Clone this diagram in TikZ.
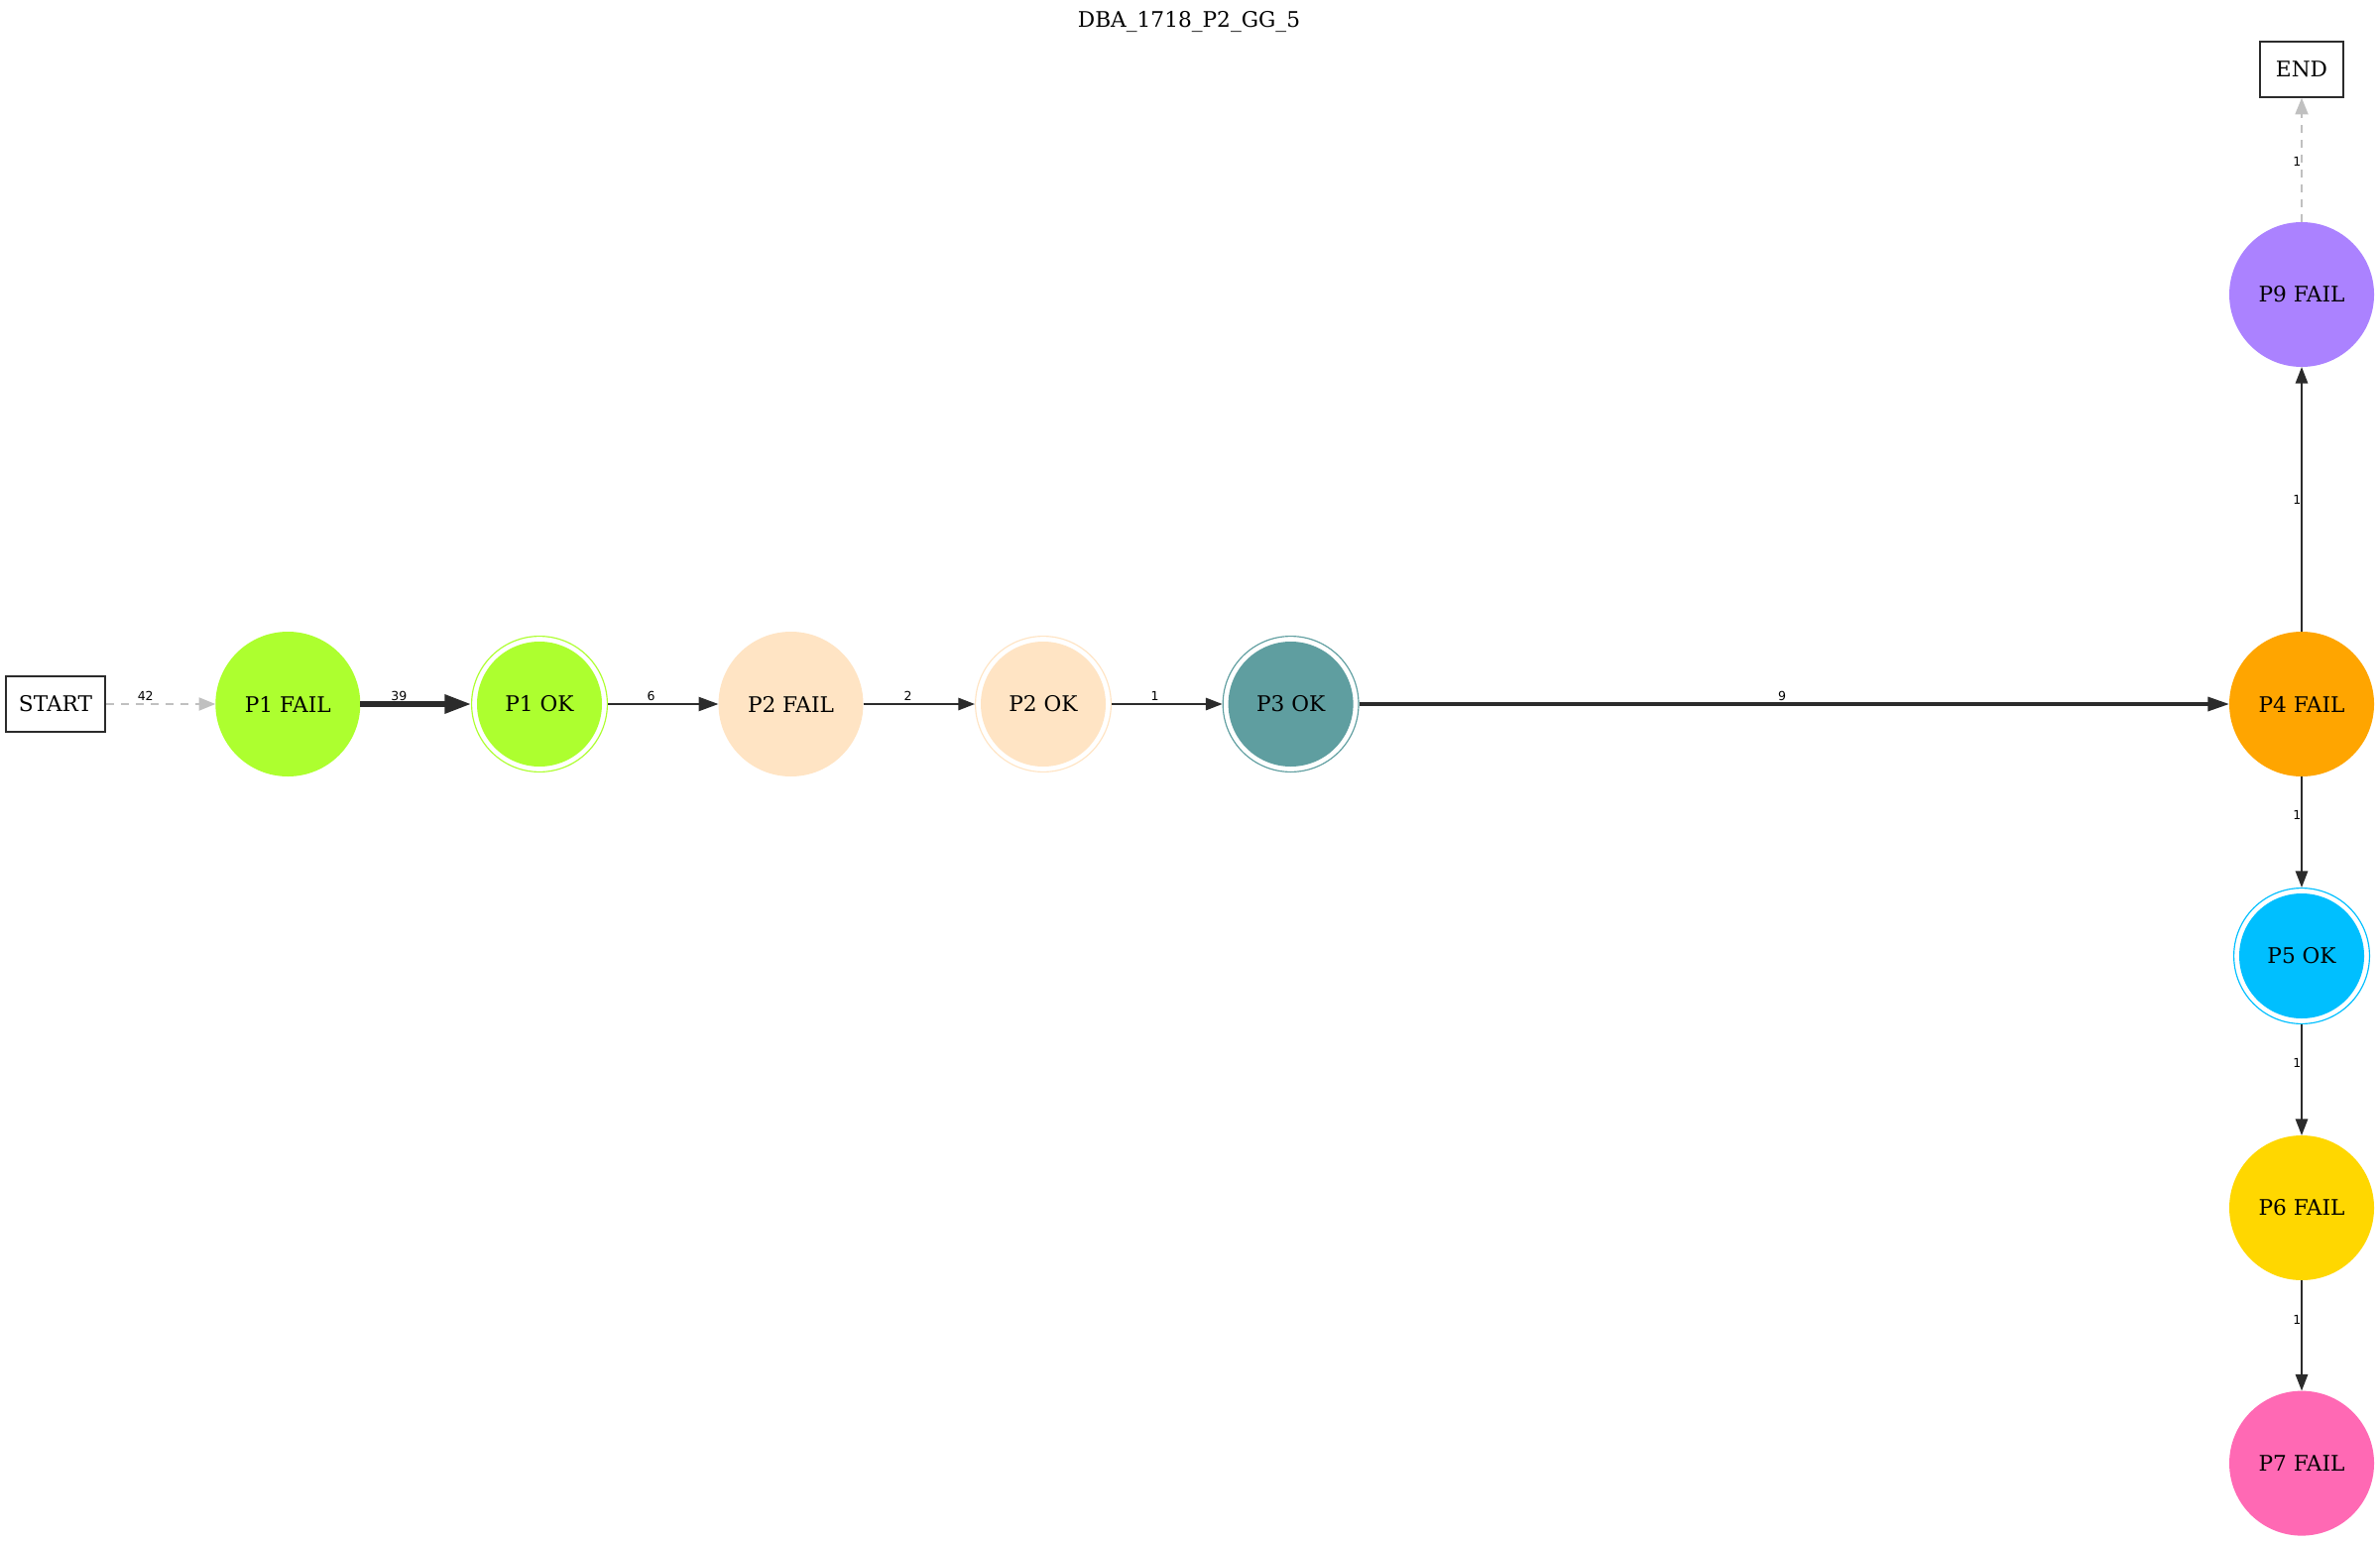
\documentclass[tikz,border=0pt]{standalone}
\usepackage{fontspec}
\setmainfont{DejaVu Serif}
\newfontfamily\lblfont{DejaVu Sans}
\usetikzlibrary{arrows.meta,shapes.geometric}
\definecolor{cPa}{HTML}{ADFF2F}
\definecolor{cPb}{HTML}{FFE4C4}
\definecolor{cPc}{HTML}{5F9EA0}
\definecolor{cPd}{HTML}{FFA500}
\definecolor{cPe}{HTML}{00BFFF}
\definecolor{cPf}{HTML}{FFD700}
\definecolor{cPg}{HTML}{FF69B4}
\definecolor{cPi}{HTML}{AB82FF}
\definecolor{cEdge}{HTML}{2B2B2B}
\definecolor{cGray}{HTML}{C0C0C0}
\begin{document}
\begin{tikzpicture}[x=0.6pt,y=-0.6pt,
  st/.style={circle, inner sep=-12pt, outer sep=0pt, minimum size=87.6pt, font=\fontsize{13}{15}\selectfont},
  ring/.style={circle, draw=#1, line width=0.7pt, inner sep=-12pt, outer sep=0.35pt, minimum size=82.1pt},
  inner/.style={circle, fill=#1, inner sep=-12pt, outer sep=0pt, minimum size=75.6pt, font=\fontsize{13}{15}\selectfont},
  boxnode/.style={rectangle, draw=cEdge, line width=1.2pt, inner sep=0pt, font=\fontsize{13}{15}\selectfont},
  edge/.style={draw=cEdge, line width=1.2pt, -{Triangle[length=10pt,width=7.4pt]}},
  gedge/.style={draw=cGray, line width=1.2pt, dash pattern=on 5pt off 4pt, -{Triangle[length=10pt,width=7.8pt]}},
  lbl/.style={font=\lblfont\fontsize{7.5}{9}\selectfont, inner sep=0pt, text=black},
  hl/.style={lbl, yshift=5pt},
  vl/.style={lbl, xshift=-2.8pt}
]
\useasboundingbox (0,0) rectangle (2400,1555);

\node[font=\fontsize{13}{15}\selectfont] (title) at (1199,22) {DBA\_1718\_P2\_GG\_5};

\node[boxnode, minimum width=60pt, minimum height=34pt] (start) at (56,710) {START};
\node[st, fill=cPa] (p1f) at (290.3,710) {P1 FAIL};
\node[ring=cPa] (p1o) at (544,710) {};
\node[inner=cPa] (p1oi) at (544,710) {P1 OK};
\node[st, fill=cPb] (p2f) at (797.5,710) {P2 FAIL};
\node[ring=cPb] (p2o) at (1052,710) {};
\node[inner=cPb] (p2oi) at (1052,710) {P2 OK};
\node[ring=cPc] (p3o) at (1301.6,710) {};
\node[inner=cPc] (p3oi) at (1301.6,710) {P3 OK};
\node[st, fill=cPd] (p4f) at (2321,710) {P4 FAIL};
\node[st, fill=cPi] (p9f) at (2321,297) {P9 FAIL};
\node[boxnode, minimum width=50.8pt, minimum height=33.6pt] (end) at (2321,69.7) {END};
\node[ring=cPe] (p5o) at (2321,964) {};
\node[inner=cPe] (p5oi) at (2321,964) {P5 OK};
\node[st, fill=cPf] (p6f) at (2321,1218) {P6 FAIL};
\node[st, fill=cPg] (p7f) at (2321,1475.6) {P7 FAIL};

\draw[gedge] (start) -- (p1f) node[hl, pos=0.36] (l42) {42};
\draw[edge, line width=3.2pt, -{Triangle[length=16pt,width=11pt]}] (p1f) -- (p1o) node[hl, pos=0.35] (l39) {39};
\draw[edge, line width=1.5pt, -{Triangle[length=12pt,width=8.4pt]}] (p1o) -- (p2f) node[hl, pos=0.39] (l6) {6};
\draw[edge] (p2f) -- (p2o) node[hl, pos=0.40] (l2) {2};
\draw[edge] (p2o) -- (p3o) node[hl, pos=0.39] (l1a) {1};
\draw[edge, line width=2pt, -{Triangle[length=13pt,width=8.4pt]}] (p3o) -- (p4f) node[hl, pos=0.486] (l9) {9};
\draw[edge] (p4f) -- (p9f) node[vl, pos=0.5] (l1b) {1};
\draw[gedge] (p9f) -- (end) node[vl, pos=0.49] (l1c) {1};
\draw[edge] (p4f) -- (p5o) node[vl, pos=0.35] (l1d) {1};
\draw[edge] (p5o) -- (p6f) node[vl, pos=0.35] (l1e) {1};
\draw[edge] (p6f) -- (p7f) node[vl, pos=0.36] (l1f) {1};
\end{tikzpicture}
\end{document}
